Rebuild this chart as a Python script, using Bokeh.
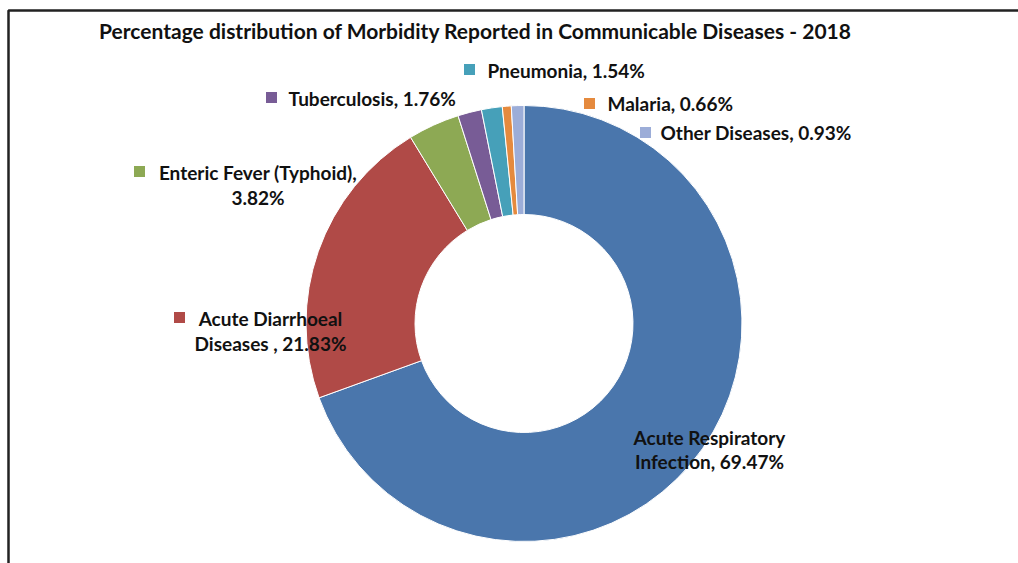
import math
from bokeh.plotting import figure
from bokeh.models import Range1d, ColumnDataSource
from bokeh.core.properties import value
from bokeh.embed import file_html
from bokeh.resources import INLINE

# ---------------- data ----------------
categories = ["Acute Respiratory Infection", "Acute Diarrhoeal Diseases",
              "Enteric Fever (Typhoid)", "Tuberculosis", "Pneumonia",
              "Malaria", "Other Diseases"]
percentages = [69.47, 21.83, 3.82, 1.76, 1.54, 0.66, 0.93]
label_first = ["Acute Respiratory", "Acute Diarrhoeal", "Enteric Fever (Typhoid),",
               "Tuberculosis, ", "Pneumonia, ", "Malaria, ", "Other Diseases, "]
label_second = ["Infection, ", "Diseases , ", "", None, None, None, None]
title_text = "Percentage distribution of Morbidity Reported in Communicable Diseases - 2018"

# ---------------- style / layout ----------------
colors = ["#4A76AC", "#B04A47", "#8DA954", "#785C96", "#46A0B9", "#E58A3E", "#9CADD8"]
W, H = 1018, 563
FONT = "Lato"
TXT = "#111111"

def Y(y_img):
    return H - y_img

# label layout (image pixel coords): (mode, x, y1, y2, marker_x, marker_y)
layout = [
    ("center", 709, 437, 461, None, None),
    ("center", 270, 318, 343, 179, 317),
    ("center", 257.5, 172, 197, 139, 171),
    ("left", 288, 98, None, 271, 97),
    ("left", 487, 70, None, 469, 69),
    ("left", 607, 103, None, 589, 103),
    ("left", 660, 132, None, 645, 132),
]

p = figure(width=W, height=H, x_range=Range1d(0, W), y_range=Range1d(0, H),
           output_backend="svg", toolbar_location=None, min_border=0,
           x_axis_type=None, y_axis_type=None)
p.grid.visible = False
p.outline_line_color = None
p.background_fill_color = "white"
p.border_fill_color = "white"

# border frame (left + top)
p.line(x=[8, 8, W + 5], y=[Y(H + 5), Y(10), Y(10)], line_color="#222222", line_width=2.5)

# donut
cx, cy, r_out, r_in = 523.5, Y(323), 218, 109
total = sum(percentages)
starts, ends = [], []
cum = 0.0
for v in percentages:
    starts.append(math.pi / 2 - 2 * math.pi * cum / total)
    cum += v
    ends.append(math.pi / 2 - 2 * math.pi * cum / total)

src = ColumnDataSource(dict(cat=categories, val=percentages, start=starts, end=ends, color=colors))
p.annular_wedge(x=cx, y=cy, inner_radius=r_in, outer_radius=r_out,
                start_angle="start", end_angle="end", direction="clock",
                fill_color="color", line_color="white", line_width=1, source=src)

# title
p.text(x=[475], y=[Y(30)], text=[title_text], text_font=value(FONT), text_font_style="bold",
       text_font_size="21px", text_align="center", text_baseline="middle", text_color=TXT)

# labels
for i, (mode, x, y1, y2, mx, my) in enumerate(layout):
    pct = f"{percentages[i]:.2f}%"
    if label_second[i] is None:
        lines = [(label_first[i] + pct, y1)]
    else:
        lines = [(label_first[i], y1), (label_second[i] + pct, y2)]
    for t, yy in lines:
        p.text(x=[x], y=[Y(yy)], text=[t], text_font=value(FONT), text_font_style="bold",
               text_font_size="19px", text_align=mode, text_baseline="middle", text_color=TXT)
    if mx is not None:
        p.rect(x=[mx], y=[Y(my)], width=11, height=11, fill_color=colors[i], line_color=None)

open("out.html", "w").write(file_html(p, INLINE))
